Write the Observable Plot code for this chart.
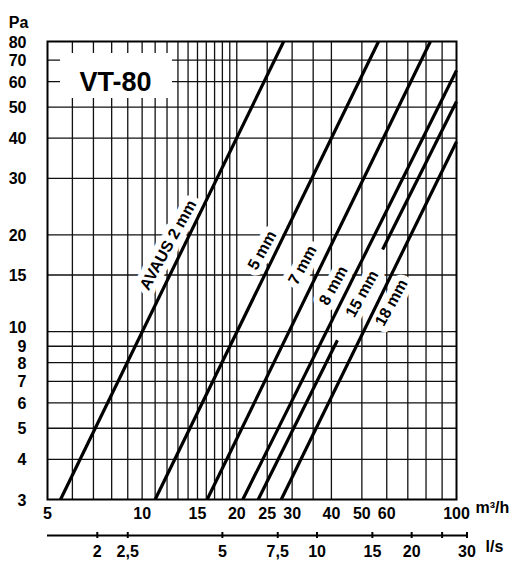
<!DOCTYPE html>
<html><head><meta charset="utf-8">
<script src="https://cdn.jsdelivr.net/npm/d3@7"></script>
<script src="https://cdn.jsdelivr.net/npm/@observablehq/plot@0.6"></script>
<style>body{margin:0;background:#fff}</style>
</head><body><div id="chart"></div>
<script>
// Axis ticks and grid values
const xTicks = [5, 10, 15, 20, 25, 30, 40, 50, 60, 100];            // m³/h
const yTicks = [3, 4, 5, 6, 7, 8, 9, 10, 15, 20, 30, 40, 50, 60, 70, 80]; // Pa
const xGrid = [6, 7, 8, 9, 10, 11, 12, 13, 14, 15, 16, 17, 18, 19, 20, 25, 30, 35, 40, 50, 60, 70, 80, 90];
const yGrid = [4, 5, 6, 7, 8, 9, 10, 15, 20, 30, 40, 50, 60, 70];
const lsTicks = [2, 2.5, 5, 7.5, 10, 15, 20, 25, 30];                // l/s
const lsLabels = ["2", "2,5", "5", "7,5", "10", "15", "20", "", "30"];
const lsPerM3h = 3.6;

// Characteristic lines (straight on log-log)
const lineNames  = ["AVAUS 2 mm", "5 mm", "7 mm", "8 mm", "15 mm", "18 mm"];
const flowStart  = [5.5, 11.0, 16.1, 20.9, 23.4, 27.7];
const pressStart = [3, 3, 3, 3, 3, 3];
const flowEnd    = [28.2, 56.5, 82.6, 100, 100, 100];
const pressEnd   = [80, 80, 80, 65, 52, 39];
// gap in the 15 mm line where its label sits
const gapName  = "15 mm";
const gapFlow  = [41.8, 58.2];
const gapPress = [9.4, 18.0];
// label anchor points
const labelFlow  = [12.1, 24.1, 32.4, 40.6, 50.1, 62.1];
const labelPress = [18.6, 17.9, 16.1, 13.9, 13.1, 12.3];

const segments = [];
lineNames.forEach((name, i) => {
  if (name === gapName) {
    segments.push({name, x1: flowStart[i], y1: pressStart[i], x2: gapFlow[0], y2: gapPress[0]});
    segments.push({name, x1: gapFlow[1], y1: gapPress[1], x2: flowEnd[i], y2: pressEnd[i]});
  } else {
    segments.push({name, x1: flowStart[i], y1: pressStart[i], x2: flowEnd[i], y2: pressEnd[i]});
  }
});
const labels = lineNames.map((name, i) => ({name, x: labelFlow[i], y: labelPress[i]}));
const lsRows = lsTicks.map((v, i) => ({x: v * lsPerM3h, label: lsLabels[i]}));

const W = 528, H = 562, mL = 47, mR = 72, mT = 41, mB = 63;
const frameH = H - mT - mB;
const lsOffset = 36;   // l/s scale line below the frame
const lsTick = 3;      // half tick length
const raisedYLabel = 10; // label nudged up, as in the original, to clear "9"

const chart = Plot.plot({
  width: W, height: H,
  marginLeft: mL, marginRight: mR, marginTop: mT, marginBottom: mB,
  x: {type: "log", domain: [xTicks[0], xTicks[xTicks.length - 1]], axis: null},
  y: {type: "log", domain: [yTicks[0], yTicks[yTicks.length - 1]], axis: null},
  style: {fontFamily: "'Liberation Sans', Arial, Helvetica, sans-serif", fontSize: "16px",
          fontWeight: "bold", color: "#000", background: "#fff", overflow: "visible"},
  marks: [
    Plot.ruleX(xGrid, {stroke: "#111", strokeWidth: 1.3}),
    Plot.ruleY(yGrid, {stroke: "#111", strokeWidth: 1.3}),
    () => d3.create("svg:rect").attr("x", mL + 13).attr("y", mT + 12)
            .attr("width", 112).attr("height", 45).attr("fill", "#fff").node(),
    Plot.text(["VT-80"], {frameAnchor: "top-left", dx: 68, dy: 41, fontSize: 27,
      textAnchor: "middle", lineAnchor: "middle", fill: "#000"}),
    Plot.text(labels, {x: "x", y: "y", text: "name", rotate: -61, fontSize: 16,
      fill: "#000", stroke: "#fff", strokeWidth: 12, paintOrder: "stroke",
      textAnchor: "middle", lineAnchor: "middle"}),
    Plot.link(segments, {x1: "x1", y1: "y1", x2: "x2", y2: "y2", stroke: "#000",
      strokeWidth: 3.2, strokeLinecap: "butt"}),
    Plot.frame({stroke: "#000", strokeWidth: 2}),
    // y tick labels
    Plot.text(yTicks.filter(d => d !== raisedYLabel), {y: d => d, text: d => String(d),
      frameAnchor: "left", dx: -21, dy: 1, textAnchor: "end", lineAnchor: "middle", fill: "#000"}),
    Plot.text([raisedYLabel], {y: d => d, text: d => String(d),
      frameAnchor: "left", dx: -21, dy: -4, textAnchor: "end", lineAnchor: "middle", fill: "#000"}),
    // x (m³/h) tick labels
    Plot.text(xTicks, {x: d => d, text: d => String(d), frameAnchor: "bottom", dy: 14,
      textAnchor: "middle", lineAnchor: "middle", fill: "#000"}),
    // l/s secondary scale
    Plot.ruleY([yTicks[0]], {x1: xTicks[0], x2: lsTicks[lsTicks.length - 1] * lsPerM3h,
      dy: lsOffset, stroke: "#000", strokeWidth: 2}),
    Plot.ruleX(lsRows, {x: "x", insetTop: frameH + lsOffset - lsTick, insetBottom: -(lsOffset + lsTick),
      stroke: "#000", strokeWidth: 2}),
    Plot.text(lsRows.filter(d => d.label !== ""), {x: "x", text: "label", frameAnchor: "bottom", dy: 52,
      textAnchor: "middle", lineAnchor: "middle", fill: "#000"}),
    Plot.text(["Pa"], {frameAnchor: "top-left", dx: -29, dy: -25, textAnchor: "middle", fill: "#000"}),
    Plot.text(["m³/h"], {frameAnchor: "bottom-right", dx: 19, dy: 13, textAnchor: "start", fill: "#000"}),
    Plot.text(["l/s"], {frameAnchor: "bottom-right", dx: 29, dy: 52, textAnchor: "start", fill: "#000"})
  ]
});
document.getElementById("chart").appendChild(chart);
</script>
</body></html>
